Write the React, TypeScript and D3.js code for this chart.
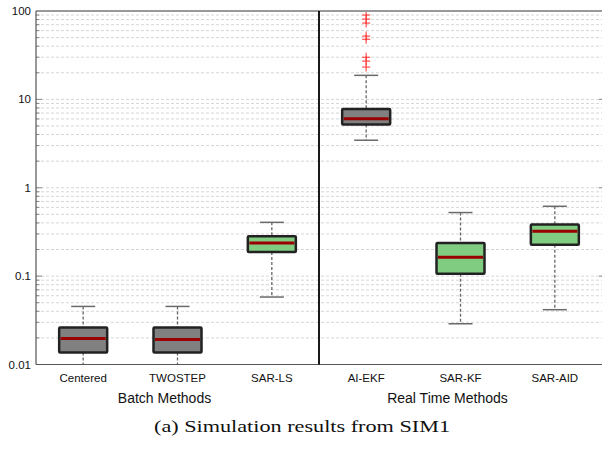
import React from "react";
import * as d3 from "d3";

const categories = ["Centered", "TWOSTEP", "SAR-LS", "AI-EKF", "SAR-KF", "SAR-AID"];
const boxFills = ["#808080", "#808080", "#80cc80", "#808080", "#80cc80", "#80cc80"];
const whiskerLow = [0.006, 0.006, 0.058, 3.45, 0.0289, 0.0417];
const q1 = [0.0137, 0.0137, 0.1875, 5.2, 0.1066, 0.227];
const medians = [0.0197, 0.0192, 0.237, 6.02, 0.164, 0.321];
const q3 = [0.0262, 0.0262, 0.282, 7.76, 0.237, 0.383];
const whiskerHigh = [0.0454, 0.0454, 0.406, 18.7, 0.524, 0.617];
const outlierCategory = ["AI-EKF", "AI-EKF", "AI-EKF", "AI-EKF", "AI-EKF", "AI-EKF", "AI-EKF", "AI-EKF"];
const outlierValues = [90, 81, 73, 52, 47.8, 29.9, 27.1, 23.2];
const groupLabels = ["Batch Methods", "Real Time Methods"];
const yTickValues = [0.01, 0.1, 1, 10, 100];
const yTickLabels = ["0.01", "0.1", "1", "10", "100"];
const caption = "(a) Simulation results from SIM1";

export default function App() {
  const W = 602, H = 451;
  const left = 36, right = 602, top = 11, bottom = 364.5;
  const x = d3.scalePoint<string>().domain(categories).range([left, right]).padding(0.5);
  const step = x.step();
  const y = d3.scaleLog().domain([0.01, 100]).range([bottom, top]);
  const yc = (v: number) => Math.max(top, Math.min(bottom, y(v)));

  const minor: number[] = [];
  for (let e = -2; e < 2; e++) {
    for (let k = 1; k < 10; k++) minor.push(k * Math.pow(10, e));
  }
  minor.push(100);
  const isMajor = (v: number) => Math.abs(Math.log10(v) - Math.round(Math.log10(v))) < 1e-9;

  const boxW = 48;
  const capW = 24;
  const sepX = left + 3 * step;
  const groupCenters = [left + 1.5 * step - 13, left + 4.5 * step - 13];

  return (
    <svg width={W} height={H} style={{ position: "absolute", left: 0, top: 0, background: "#fff" }}
      fontFamily="'Liberation Sans', Arial, sans-serif">
      <rect x={0} y={0} width={W} height={H} fill="#fff" />
      {/* grid */}
      {minor.map((v, i) => (
        <line key={"g" + i} x1={left} x2={right} y1={y(v)} y2={y(v)} stroke="#d6d6d6"
          strokeWidth={1} strokeDasharray="3,2" />
      ))}
      {/* left ticks */}
      {minor.map((v, i) => (
        <line key={"t" + i} x1={left} x2={left + (isMajor(v) ? 6 : 3.5)} y1={y(v)} y2={y(v)}
          stroke="#888" strokeWidth={1} />
      ))}
      {yTickValues.map((v, i) => (
        <line key={"tr" + i} x1={right} x2={right - 3} y1={y(v)} y2={y(v)} stroke="#888" strokeWidth={1} />
      ))}
      {/* boxes */}
      {categories.map((c, i) => {
        const cx = x(c)!;
        return (
          <g key={c}>
            <line x1={cx} x2={cx} y1={yc(whiskerHigh[i])} y2={y(q3[i])} stroke="#666" strokeWidth={1.3} strokeDasharray="3,2" />
            <line x1={cx} x2={cx} y1={y(q1[i])} y2={yc(whiskerLow[i])} stroke="#666" strokeWidth={1.3} strokeDasharray="3,2" />
            <line x1={cx - capW / 2} x2={cx + capW / 2} y1={y(whiskerHigh[i])} y2={y(whiskerHigh[i])} stroke="#6a6a6a" strokeWidth={1.5} />
            {whiskerLow[i] >= 0.01 && (
              <line x1={cx - capW / 2} x2={cx + capW / 2} y1={y(whiskerLow[i])} y2={y(whiskerLow[i])} stroke="#6a6a6a" strokeWidth={1.5} />
            )}
            <rect x={cx - boxW / 2} y={y(q3[i])} width={boxW} height={y(q1[i]) - y(q3[i])}
              fill={boxFills[i]} stroke="#222" strokeWidth={2.5} rx={1} />
            <line x1={cx - boxW / 2 + 1.5} x2={cx + boxW / 2 - 1.5} y1={y(medians[i])} y2={y(medians[i])}
              stroke="#990000" strokeWidth={3} />
          </g>
        );
      })}
      {/* outliers */}
      {outlierValues.map((v, i) => {
        const cx = x(outlierCategory[i])!;
        const cy = y(v);
        return (
          <g key={"o" + i} stroke="#ff3333" strokeOpacity={0.8} strokeWidth={1.3}>
            <line x1={cx - 4} x2={cx + 4} y1={cy} y2={cy} />
            <line x1={cx} x2={cx} y1={cy - 4.5} y2={cy + 4.5} />
          </g>
        );
      })}
      {/* frame */}
      <line x1={left} x2={right} y1={top} y2={top} stroke="#999" strokeWidth={2} />
      <line x1={left} x2={left} y1={top} y2={bottom} stroke="#555" strokeWidth={1.2} />
      <line x1={left} x2={right} y1={bottom} y2={bottom} stroke="#555" strokeWidth={1.2} />
      <line x1={sepX} x2={sepX} y1={top} y2={bottom} stroke="#000" strokeWidth={1.8} />
      {/* y tick labels */}
      {yTickValues.map((v, i) => (
        <text key={"yl" + i} x={31} y={y(v) + 4} textAnchor="end" fontSize={11.5} fill="#111">
          {yTickLabels[i]}
        </text>
      ))}
      {/* x tick labels */}
      {categories.map((c) => (
        <text key={"xl" + c} x={x(c)!} y={382} textAnchor="middle" fontSize={11.5} fill="#111">
          {c}
        </text>
      ))}
      {groupLabels.map((g, i) => (
        <text key={g} x={groupCenters[i]} y={403} textAnchor="middle" fontSize={14} fill="#111">
          {g}
        </text>
      ))}
      <text x={302} y={432} textAnchor="middle" fontSize={17} textLength={296} lengthAdjust="spacingAndGlyphs"
        fontFamily="'Liberation Serif', 'Times New Roman', serif" fill="#111">
        {caption}
      </text>
    </svg>
  );
}
